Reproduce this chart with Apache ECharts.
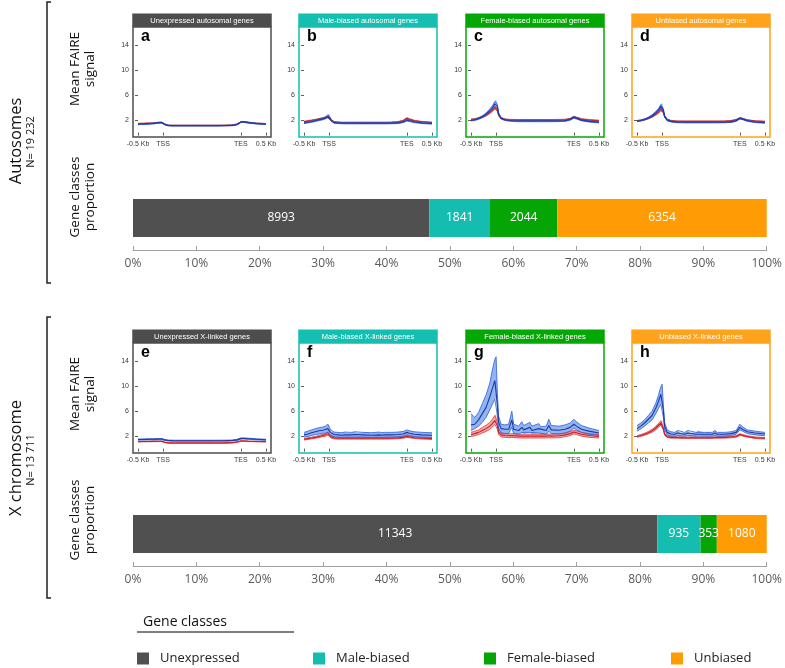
<!DOCTYPE html>
<html><head><meta charset="utf-8">
<script src="https://cdn.jsdelivr.net/npm/echarts@6/dist/echarts.min.js"></script>
<style>html,body{margin:0;padding:0;background:#fff}#c{width:785px;height:668px}</style>
</head><body><div id="c"></div><script>
// ---- profile x positions (-0.5 Kb = 0, TSS = 20, TES = 82, 0.5 Kb = 102) ----
const positions = [0,3,6,9,12,15,17,19,20,21,22,24,27,30,32.5,34,38,40.5,42,47,48.5,54,55.5,60,62,64,70,75,79,82,84,88,94,102];
const tickPos = [0,20,82,102];
const tickText = ['-0.5 Kb','TSS','TES','0.5 Kb'];
const yTicks = [2,6,10,14];

// a: Unexpressed autosomal
const aBlueMean = [1.35,1.38,1.4,1.42,1.45,1.55,1.6,1.62,1.55,1.35,1.2,1.15,1.12,1.12,1.12,1.12,1.12,1.12,1.12,1.12,1.12,1.12,1.12,1.12,1.12,1.12,1.13,1.15,1.3,1.7,1.72,1.6,1.45,1.35];
const aBlueLo = [1.27,1.3,1.32,1.34,1.37,1.47,1.52,1.54,1.47,1.28,1.13,1.08,1.06,1.06,1.06,1.06,1.06,1.06,1.06,1.06,1.06,1.06,1.06,1.06,1.06,1.06,1.07,1.09,1.23,1.62,1.64,1.52,1.37,1.27];
const aBlueHi = [1.43,1.46,1.48,1.5,1.53,1.63,1.68,1.7,1.63,1.42,1.27,1.22,1.18,1.18,1.18,1.18,1.18,1.18,1.18,1.18,1.18,1.18,1.18,1.18,1.18,1.18,1.19,1.21,1.37,1.78,1.8,1.68,1.53,1.43];
const aRedMean = [1.45,1.47,1.48,1.5,1.52,1.58,1.6,1.6,1.52,1.35,1.22,1.18,1.15,1.15,1.15,1.15,1.15,1.15,1.15,1.15,1.15,1.15,1.15,1.15,1.15,1.15,1.16,1.2,1.35,1.7,1.72,1.62,1.5,1.42];
const aRedLo = [1.4,1.42,1.43,1.45,1.47,1.53,1.55,1.55,1.47,1.3,1.17,1.13,1.1,1.1,1.1,1.1,1.1,1.1,1.1,1.1,1.1,1.1,1.1,1.1,1.1,1.1,1.11,1.15,1.3,1.65,1.67,1.57,1.45,1.37];
const aRedHi = [1.5,1.52,1.53,1.55,1.57,1.63,1.65,1.65,1.57,1.4,1.27,1.23,1.2,1.2,1.2,1.2,1.2,1.2,1.2,1.2,1.2,1.2,1.2,1.2,1.2,1.2,1.21,1.25,1.4,1.75,1.77,1.67,1.55,1.47];
// b: Male-biased autosomal
const bBlueMean = [1.55,1.65,1.75,1.9,2.05,2.2,2.35,2.6,2.7,2.2,1.8,1.6,1.55,1.52,1.5,1.5,1.5,1.5,1.5,1.5,1.5,1.5,1.5,1.5,1.5,1.5,1.52,1.55,1.7,2.0,1.9,1.7,1.55,1.45];
const bBlueLo = [1.45,1.55,1.65,1.78,1.92,2.05,2.2,2.4,2.45,2.0,1.7,1.5,1.45,1.42,1.4,1.4,1.4,1.4,1.4,1.4,1.4,1.4,1.4,1.4,1.4,1.4,1.42,1.45,1.6,1.85,1.78,1.6,1.45,1.36];
const bBlueHi = [1.65,1.75,1.86,2.02,2.18,2.35,2.52,2.85,3.05,2.45,1.92,1.7,1.65,1.62,1.6,1.6,1.6,1.6,1.6,1.6,1.6,1.6,1.6,1.6,1.6,1.6,1.62,1.66,1.82,2.15,2.02,1.8,1.65,1.55];
const bRedMean = [1.75,1.85,1.95,2.05,2.18,2.3,2.4,2.5,2.45,2.1,1.85,1.7,1.65,1.62,1.62,1.62,1.62,1.62,1.62,1.62,1.62,1.62,1.62,1.62,1.62,1.62,1.64,1.7,1.9,2.3,2.15,1.9,1.72,1.62];
const bRedLo = [1.67,1.77,1.87,1.97,2.1,2.2,2.3,2.38,2.33,2.0,1.77,1.62,1.57,1.55,1.55,1.55,1.55,1.55,1.55,1.55,1.55,1.55,1.55,1.55,1.55,1.55,1.57,1.62,1.82,2.2,2.06,1.82,1.65,1.55];
const bRedHi = [1.83,1.93,2.03,2.13,2.26,2.4,2.5,2.62,2.57,2.2,1.93,1.78,1.73,1.69,1.69,1.69,1.69,1.69,1.69,1.69,1.69,1.69,1.69,1.69,1.69,1.69,1.71,1.78,1.98,2.4,2.24,1.98,1.79,1.69];
// c: Female-biased autosomal
const cBlueMean = [1.95,2.05,2.25,2.55,2.95,3.5,3.95,4.6,4.9,4.2,3.0,2.3,2.05,1.95,1.9,1.88,1.85,1.85,1.85,1.85,1.85,1.85,1.85,1.85,1.85,1.85,1.87,1.9,2.1,2.45,2.3,2.0,1.8,1.65];
const cBlueLo = [1.85,1.95,2.12,2.4,2.75,3.25,3.65,4.25,4.5,3.85,2.8,2.18,1.95,1.85,1.8,1.78,1.75,1.75,1.75,1.75,1.75,1.75,1.75,1.75,1.75,1.75,1.77,1.8,1.98,2.3,2.18,1.9,1.7,1.55];
const cBlueHi = [2.05,2.15,2.38,2.7,3.15,3.8,4.3,5.0,5.3,4.55,3.2,2.42,2.15,2.05,2.0,1.98,1.95,1.95,1.95,1.95,1.95,1.95,1.95,1.95,1.95,1.95,1.97,2.0,2.22,2.6,2.42,2.1,1.9,1.75];
const cRedMean = [2.1,2.15,2.3,2.5,2.8,3.2,3.55,4.0,4.2,3.6,2.8,2.3,2.1,2.05,2.02,2.0,2.0,2.0,2.0,2.0,2.0,2.0,2.0,2.0,2.0,2.0,2.02,2.05,2.2,2.5,2.4,2.15,2.0,1.9];
const cRedLo = [2.0,2.05,2.2,2.38,2.66,3.04,3.37,3.8,4.0,3.42,2.68,2.2,2.0,1.95,1.92,1.9,1.9,1.9,1.9,1.9,1.9,1.9,1.9,1.9,1.9,1.9,1.92,1.95,2.1,2.38,2.3,2.05,1.9,1.8];
const cRedHi = [2.2,2.25,2.4,2.62,2.94,3.36,3.73,4.2,4.4,3.78,2.92,2.4,2.2,2.15,2.12,2.1,2.1,2.1,2.1,2.1,2.1,2.1,2.1,2.1,2.1,2.1,2.12,2.15,2.3,2.62,2.5,2.25,2.1,2.0];
// d: Unbiased autosomal
const dBlueMean = [1.85,1.95,2.1,2.35,2.7,3.2,3.6,4.2,4.5,3.6,2.6,2.0,1.8,1.72,1.68,1.66,1.65,1.65,1.65,1.65,1.65,1.65,1.65,1.65,1.65,1.65,1.67,1.72,1.9,2.3,2.2,1.9,1.7,1.58];
const dBlueLo = [1.76,1.86,2.0,2.22,2.55,3.0,3.36,3.9,4.15,3.35,2.45,1.9,1.71,1.63,1.59,1.57,1.56,1.56,1.56,1.56,1.56,1.56,1.56,1.56,1.56,1.56,1.58,1.63,1.8,2.18,2.09,1.8,1.61,1.5];
const dBlueHi = [1.94,2.04,2.2,2.48,2.85,3.4,3.84,4.5,4.8,3.85,2.75,2.1,1.89,1.81,1.77,1.75,1.74,1.74,1.74,1.74,1.74,1.74,1.74,1.74,1.74,1.74,1.76,1.81,2.0,2.42,2.31,2.0,1.79,1.66];
const dRedMean = [1.85,1.95,2.1,2.3,2.55,2.95,3.25,3.7,3.85,3.3,2.6,2.1,1.9,1.85,1.82,1.8,1.8,1.8,1.8,1.8,1.8,1.8,1.8,1.8,1.8,1.8,1.82,1.88,2.05,2.3,2.2,2.0,1.85,1.78];
const dRedLo = [1.79,1.88,2.02,2.2,2.43,2.8,3.07,3.5,3.65,3.13,2.48,2.02,1.83,1.79,1.76,1.74,1.74,1.74,1.74,1.74,1.74,1.74,1.74,1.74,1.74,1.74,1.76,1.81,1.97,2.2,2.12,1.93,1.79,1.72];
const dRedHi = [1.91,2.02,2.18,2.4,2.67,3.1,3.43,3.9,4.05,3.47,2.72,2.18,1.97,1.91,1.88,1.86,1.86,1.86,1.86,1.86,1.86,1.86,1.86,1.86,1.86,1.86,1.88,1.95,2.13,2.4,2.28,2.07,1.91,1.84];
// e: Unexpressed X-linked
const eBlueMean = [1.45,1.47,1.48,1.5,1.5,1.52,1.53,1.53,1.5,1.4,1.33,1.3,1.28,1.27,1.27,1.27,1.27,1.27,1.27,1.27,1.27,1.27,1.27,1.27,1.27,1.27,1.28,1.3,1.4,1.62,1.63,1.58,1.5,1.42];
const eBlueLo = [1.36,1.38,1.39,1.41,1.41,1.43,1.44,1.44,1.41,1.32,1.25,1.22,1.2,1.19,1.19,1.19,1.19,1.19,1.19,1.19,1.19,1.19,1.19,1.19,1.19,1.19,1.2,1.22,1.31,1.52,1.53,1.49,1.41,1.34];
const eBlueHi = [1.54,1.56,1.57,1.59,1.59,1.61,1.62,1.62,1.59,1.48,1.41,1.38,1.36,1.35,1.35,1.35,1.35,1.35,1.35,1.35,1.35,1.35,1.35,1.35,1.35,1.35,1.36,1.38,1.49,1.72,1.73,1.67,1.59,1.5];
const eRedMean = [1.12,1.13,1.14,1.15,1.16,1.17,1.17,1.17,1.12,1.02,0.95,0.92,0.9,0.9,0.9,0.9,0.9,0.9,0.9,0.9,0.9,0.9,0.9,0.9,0.9,0.9,0.92,0.95,1.05,1.22,1.22,1.18,1.15,1.12];
const eRedLo = [1.07,1.08,1.09,1.1,1.11,1.12,1.12,1.12,1.07,0.97,0.9,0.87,0.85,0.85,0.85,0.85,0.85,0.85,0.85,0.85,0.85,0.85,0.85,0.85,0.85,0.85,0.87,0.9,1.0,1.17,1.17,1.13,1.1,1.07];
const eRedHi = [1.17,1.18,1.19,1.2,1.21,1.22,1.22,1.22,1.17,1.07,1.0,0.97,0.95,0.95,0.95,0.95,0.95,0.95,0.95,0.95,0.95,0.95,0.95,0.95,0.95,0.95,0.97,1.0,1.1,1.27,1.27,1.23,1.2,1.17];
// f: Male-biased X-linked
const fBlueMean = [2.2,2.35,2.55,2.7,2.85,2.95,3.05,3.2,3.1,2.6,2.35,2.25,2.2,2.15,2.2,2.15,2.2,2.25,2.15,2.2,2.2,2.15,2.2,2.2,2.15,2.2,2.2,2.25,2.35,2.6,2.45,2.3,2.2,2.15];
const fBlueLo = [1.85,1.95,2.1,2.25,2.35,2.45,2.5,2.6,2.55,2.2,1.95,1.88,1.85,1.82,1.85,1.82,1.85,1.85,1.82,1.85,1.85,1.82,1.85,1.85,1.82,1.85,1.85,1.9,2.0,2.2,2.1,1.95,1.85,1.8];
const fBlueHi = [2.6,2.8,3.0,3.2,3.35,3.45,3.6,3.9,3.8,3.05,2.75,2.65,2.6,2.55,2.65,2.55,2.6,2.7,2.55,2.6,2.65,2.55,2.6,2.65,2.55,2.6,2.6,2.65,2.75,3.0,2.85,2.7,2.6,2.55];
const fRedMean = [1.5,1.6,1.7,1.8,1.95,2.1,2.2,2.4,2.35,1.95,1.75,1.7,1.65,1.65,1.65,1.65,1.65,1.65,1.65,1.65,1.65,1.65,1.65,1.65,1.65,1.65,1.67,1.72,1.8,1.95,1.88,1.75,1.65,1.6];
const fRedLo = [1.38,1.47,1.56,1.65,1.78,1.92,2.0,2.15,2.12,1.78,1.6,1.56,1.52,1.52,1.52,1.52,1.52,1.52,1.52,1.52,1.52,1.52,1.52,1.52,1.52,1.52,1.54,1.58,1.66,1.8,1.74,1.62,1.53,1.48];
const fRedHi = [1.62,1.73,1.84,1.95,2.12,2.28,2.4,2.65,2.58,2.12,1.9,1.84,1.78,1.78,1.78,1.78,1.78,1.78,1.78,1.78,1.78,1.78,1.78,1.78,1.78,1.78,1.8,1.86,1.94,2.1,2.02,1.88,1.77,1.72];
// g: Female-biased X-linked
const gBlueMean = [3.8,3.9,4.6,5.6,6.6,8.3,9.6,10.9,11.1,7.0,4.2,3.2,3.1,3.1,4.6,3.1,2.9,3.4,3.0,3.4,2.9,3.2,2.9,2.9,3.7,3.0,2.95,3.1,3.4,3.9,3.6,3.1,2.8,2.5];
const gBlueLo = [2.9,3.2,3.6,4.2,5.0,6.2,7.1,7.9,8.0,5.3,3.3,2.5,2.4,2.4,3.4,2.4,2.3,2.6,2.35,2.6,2.3,2.5,2.3,2.3,2.8,2.4,2.35,2.5,2.8,3.3,3.0,2.6,2.3,2.1];
const gBlueHi = [5.6,5.0,5.8,7.2,8.6,10.5,12.6,14.3,14.7,9.0,5.2,3.9,3.8,3.9,6.0,3.9,3.6,4.3,3.7,4.2,3.6,4.0,3.5,3.6,4.7,3.7,3.6,3.8,4.1,4.7,4.3,3.7,3.3,2.9];
const gRedMean = [2.25,2.4,2.6,2.9,3.2,3.6,4.0,4.5,4.6,3.6,2.6,2.2,2.1,2.05,2.1,2.0,2.0,2.0,1.95,2.0,1.95,2.0,1.95,2.0,2.05,2.0,2.05,2.2,2.4,2.65,2.55,2.3,2.1,1.95];
const gRedLo = [1.95,2.05,2.25,2.5,2.75,3.1,3.45,3.9,4.1,3.1,2.25,1.9,1.8,1.75,1.8,1.7,1.7,1.7,1.65,1.7,1.65,1.7,1.65,1.7,1.75,1.7,1.75,1.9,2.1,2.35,2.25,2.0,1.8,1.7];
const gRedHi = [2.6,2.8,3.0,3.4,3.75,4.2,4.7,5.3,5.5,4.2,3.0,2.5,2.4,2.35,2.4,2.3,2.3,2.3,2.25,2.3,2.25,2.3,2.25,2.3,2.35,2.3,2.35,2.5,2.7,2.95,2.85,2.6,2.4,2.25];
// h: Unbiased X-linked
const hBlueMean = [3.2,3.6,4.1,4.7,5.3,6.5,7.5,8.7,9.0,6.1,3.6,2.6,2.35,2.3,2.5,2.3,2.3,2.5,2.3,2.3,2.5,2.3,2.35,2.3,2.5,2.3,2.3,2.4,2.6,3.4,3.1,2.7,2.5,2.35];
const hBlueLo = [2.8,3.15,3.6,4.1,4.6,5.6,6.4,7.1,7.2,5.0,3.0,2.2,2.0,2.0,2.1,2.0,2.0,2.1,2.0,2.0,2.1,2.0,2.0,2.0,2.1,2.0,2.0,2.1,2.3,3.0,2.8,2.4,2.2,2.05];
const hBlueHi = [3.7,4.1,4.6,5.3,6.0,7.3,8.5,9.9,10.3,7.0,4.2,3.0,2.7,2.6,2.9,2.6,2.6,2.9,2.6,2.6,2.9,2.6,2.7,2.6,2.9,2.6,2.6,2.7,2.9,3.9,3.5,3.0,2.8,2.6];
const hRedMean = [1.95,2.1,2.3,2.55,2.85,3.3,3.7,4.1,4.2,3.2,2.3,1.9,1.8,1.78,1.78,1.75,1.75,1.75,1.75,1.75,1.75,1.75,1.75,1.75,1.78,1.78,1.8,1.85,1.95,2.25,2.15,1.95,1.75,1.65];
const hRedLo = [1.82,1.96,2.14,2.36,2.62,3.02,3.38,3.75,3.85,2.95,2.15,1.78,1.68,1.66,1.66,1.63,1.63,1.63,1.63,1.63,1.63,1.63,1.63,1.63,1.66,1.66,1.68,1.73,1.83,2.1,2.02,1.83,1.63,1.53];
const hRedHi = [2.08,2.24,2.46,2.74,3.08,3.58,4.02,4.45,4.55,3.45,2.45,2.02,1.92,1.9,1.9,1.87,1.87,1.87,1.87,1.87,1.87,1.87,1.87,1.87,1.9,1.9,1.92,1.97,2.07,2.4,2.28,2.07,1.87,1.77];

// ---- gene class proportions ----
const classNames = ['Unexpressed','Male-biased','Female-biased','Unbiased'];
const autosomeCounts = [8993,1841,2044,6354];
const xCounts = [11343,935,353,1080];

const panelTitles = ['Unexpressed autosomal genes','Male-biased autosomal genes','Female-biased autosomal genes','Unbiased autosomal genes',
  'Unexpressed X-linked genes','Male-biased X-linked genes','Female-biased X-linked genes','Unbiased X-linked genes'];
const panelLetters = ['a','b','c','d','e','f','g','h'];

// ---- styles ----
const classColors = ['#505050','#14bdb0','#06a506','#ff9b05'];
const headerColors = ['#4d4d4d','#14bfb1','#04a804','#ffa21c'];
const BLUE = {line:'#2b5fd9', mean:'#1c3aa8', fill:'rgba(110,155,235,0.75)'};
const RED = {line:'#e2373a', mean:'#c81e24', fill:'rgba(240,130,130,0.7)'};
const gridLefts = [133,299,466,632];
const gridTops = [27,343];
const GW = 138, GH = 110;

const profiles = [
  [aBlueLo,aBlueMean,aBlueHi,aRedLo,aRedMean,aRedHi],
  [bBlueLo,bBlueMean,bBlueHi,bRedLo,bRedMean,bRedHi],
  [cBlueLo,cBlueMean,cBlueHi,cRedLo,cRedMean,cRedHi],
  [dBlueLo,dBlueMean,dBlueHi,dRedLo,dRedMean,dRedHi],
  [eBlueLo,eBlueMean,eBlueHi,eRedLo,eRedMean,eRedHi],
  [fBlueLo,fBlueMean,fBlueHi,fRedLo,fRedMean,fRedHi],
  [gBlueLo,gBlueMean,gBlueHi,gRedLo,gRedMean,gRedHi],
  [hBlueLo,hBlueMean,hBlueHi,hRedLo,hRedMean,hRedHi]
];

const grids = [], xAxes = [], yAxes = [], series = [], graphics = [];
const pair = a => positions.map((x,i)=>[x,a[i]]);

function band(gi, lo, mid, hi, c, tag){
  const base = {xAxisIndex:gi, yAxisIndex:gi, silent:true, animation:false};
  // ribbon between lo and hi, drawn through the axis scales
  series.push(Object.assign({}, base, {type:'custom', name:tag+'band', data:[[positions[0], lo[0]]],
    clip:true,
    renderItem:(params, api)=>{
      const pts = [];
      for (let i=0;i<positions.length;i++) pts.push(api.coord([positions[i], hi[i]]));
      for (let i=positions.length-1;i>=0;i--) pts.push(api.coord([positions[i], lo[i]]));
      return {type:'polygon', shape:{points:pts}, style:{fill:c.fill}};
    }}));
  const lb = Object.assign({}, base, {type:'line', symbol:'none'});
  series.push(Object.assign({}, lb, {name:tag+'lo', data:pair(lo), lineStyle:{color:c.line,width:0.8}}));
  series.push(Object.assign({}, lb, {name:tag+'hi', data:pair(hi), lineStyle:{color:c.line,width:0.8}}));
  series.push(Object.assign({}, lb, {name:tag+'mean', data:pair(mid), lineStyle:{color:c.mean,width:1.1}}));
}

for (let p=0;p<8;p++){
  const left = gridLefts[p%4], top = gridTops[Math.floor(p/4)];
  const hc = headerColors[p%4];
  grids.push({left:left, top:top, width:GW, height:GH, show:true, borderColor:hc, borderWidth:1.5, backgroundColor:'#fff'});
  xAxes.push({type:'value', gridIndex:p, min:-4, max:106, splitLine:{show:false}, axisLine:{show:false},
    axisTick:{show:true, customValues:tickPos, length:3, lineStyle:{color:'#333',width:0.8}},
    axisLabel:{customValues:tickPos, formatter:v=>tickText[tickPos.indexOf(v)], fontSize:7, color:'#3a3a3a', margin:4, fontFamily:'Liberation Sans'}});
  yAxes.push({type:'value', gridIndex:p, min:-0.7, max:16.9, splitLine:{show:false}, axisLine:{show:false},
    axisTick:{show:true, customValues:yTicks, length:3, lineStyle:{color:'#333',width:0.8}},
    axisLabel:{customValues:yTicks, fontSize:7, color:'#3a3a3a', margin:4, fontFamily:'Liberation Sans'}});
  const pr = profiles[p];
  band(p, pr[3], pr[4], pr[5], RED, 'r'+p);
  band(p, pr[0], pr[1], pr[2], BLUE, 'b'+p);
  graphics.push({type:'rect', shape:{x:left-0.75, y:top-13.5, width:GW+1.5, height:13.5}, style:{fill:hc}, z:10});
  graphics.push({type:'text', x:left+GW/2, y:top-6.5, style:{text:panelTitles[p], fill:'#fff', fontSize:7.5, fontFamily:'Liberation Sans', textAlign:'center', textVerticalAlign:'middle'}, z:11});
  graphics.push({type:'text', x:left+8, y:top+10, style:{text:panelLetters[p], fill:'#000', fontSize:16, fontWeight:'bold', fontFamily:'Liberation Sans', textAlign:'left', textVerticalAlign:'middle'}, z:11});
}

// proportion bars
const barGridTops = [199,515];
const barSets = [autosomeCounts, xCounts];
for (let b=0;b<2;b++){
  const gi = 8+b;
  grids.push({left:133, top:barGridTops[b], width:637, height:38});
  xAxes.push({type:'value', gridIndex:gi, min:0, max:100, interval:10, offset:13, splitLine:{show:false},
    axisLine:{show:true, lineStyle:{color:'#a0a0a0',width:1}},
    axisTick:{show:true, inside:true, length:4, lineStyle:{color:'#a0a0a0'}},
    axisLabel:{formatter:'{value}%', fontSize:12, color:'#595959', margin:8, fontFamily:'Open Sans'}});
  yAxes.push({type:'category', gridIndex:gi, data:['all'], show:false});
  const counts = barSets[b];
  const total = counts.reduce((s,v)=>s+v,0);
  counts.forEach((n,k)=>{
    series.push({type:'bar', name:classNames[k], xAxisIndex:gi, yAxisIndex:gi, stack:'s'+b, barWidth:'100%',
      data:[n/total*100], itemStyle:{color:classColors[k]}, animation:false,
      label:{show:true, position:'inside', formatter:()=>String(n), color:'#fff', fontSize:12, fontFamily:'Open Sans'}});
  });
}

// left labels & brackets
function vtext(x,y,text,size){
  graphics.push({type:'text', x:x, y:y, rotation:Math.PI/2, style:{text:text, fill:'#111', fontSize:size, fontFamily:'Open Sans', textAlign:'center', textVerticalAlign:'middle', lineHeight:size*1.1}});
}
vtext(16,141,'Autosomes',16.5);
vtext(31,142,'N= 19 232',11);
vtext(83,69,'Mean FAIRE\nsignal',13.5);
vtext(83,197,'Gene classes\nproportion',13.5);
vtext(16,458,'X chromosome',16.5);
vtext(31,460,'N= 13 711',11);
vtext(83,394,'Mean FAIRE\nsignal',13.5);
vtext(83,520,'Gene classes\nproportion',13.5);
graphics.push({type:'polyline', shape:{points:[[51,2],[47,2],[47,283],[51,283]]}, style:{stroke:'#222',lineWidth:1.5,fill:null}});
graphics.push({type:'polyline', shape:{points:[[51,317],[47,317],[47,598],[51,598]]}, style:{stroke:'#222',lineWidth:1.5,fill:null}});

// legend title
graphics.push({type:'text', x:143, y:622, style:{text:'Gene classes', fill:'#111', fontSize:14, fontFamily:'Open Sans', textAlign:'left', textVerticalAlign:'middle'}});
graphics.push({type:'line', shape:{x1:137,y1:632,x2:294,y2:632}, style:{stroke:'#000',lineWidth:1.2}});

const legendLefts = [137,313,484,671];
const legends = classNames.map((n,k)=>({data:[n], left:legendLefts[k], top:652, padding:0, itemWidth:12, itemHeight:12, icon:'rect',
  selectedMode:false, textStyle:{fontSize:13, color:'#222', fontFamily:'Open Sans', padding:[0,0,0,6]}}));

const chart = echarts.init(document.getElementById('c'), null, {renderer:'canvas'});
chart.setOption({
  animation:false,
  backgroundColor:'#fff',
  grid:grids, xAxis:xAxes, yAxis:yAxes, series:series,
  legend:legends,
  graphic:graphics
});
</script></body></html>
